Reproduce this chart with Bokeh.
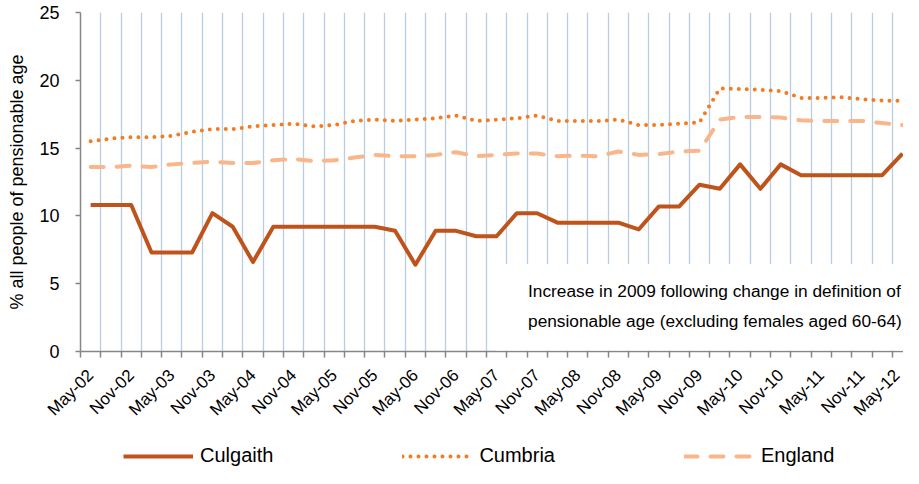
import math
from bokeh.plotting import figure
from bokeh.layouts import column
from bokeh.models import (ColumnDataSource, FixedTicker, Range1d, Legend, LegendItem,
                          BoxAnnotation, Label)
from bokeh.embed import file_html
from bokeh.resources import INLINE

quarters = []
for yr in range(2, 13):
    for m in ["Feb", "May", "Aug", "Nov"]:
        quarters.append(f"{m}-{yr:02d}")
quarters = quarters[1:42]  # May-02 .. May-12

culgaith = [10.8, 10.8, 10.8, 7.3, 7.3, 7.3, 10.2, 9.2, 6.6, 9.2,
            9.2, 9.2, 9.2, 9.2, 9.2, 8.9, 6.4, 8.9, 8.9, 8.5,
            8.5, 10.2, 10.2, 9.5, 9.5, 9.5, 9.5, 9.0, 10.7, 10.7,
            12.3, 12.0, 13.8, 12.0, 13.8, 13.0, 13.0, 13.0, 13.0, 13.0,
            14.6]
cumbria = [15.5, 15.7, 15.8, 15.8, 15.9, 16.2, 16.4, 16.4, 16.6, 16.7,
           16.8, 16.6, 16.7, 17.0, 17.1, 17.0, 17.1, 17.2, 17.4, 17.0,
           17.1, 17.2, 17.4, 17.0, 17.0, 17.0, 17.1, 16.7, 16.7, 16.8,
           16.9, 19.4, 19.35, 19.3, 19.2, 18.7, 18.7, 18.75, 18.6, 18.5,
           18.5]
england = [13.6, 13.6, 13.7, 13.6, 13.8, 13.9, 14.0, 13.9, 13.9, 14.1,
           14.2, 14.05, 14.1, 14.3, 14.5, 14.4, 14.4, 14.5, 14.7, 14.4,
           14.5, 14.6, 14.6, 14.4, 14.45, 14.4, 14.75, 14.5, 14.55, 14.75,
           14.8, 17.1, 17.3, 17.3, 17.25, 17.05, 17.0, 17.0, 17.0, 16.85,
           16.7]
y_ticks = [0, 5, 10, 15, 20, 25]
note_lines = ["Increase in 2009 following change in definition of",
              "pensionable age (excluding females aged 60-64)"]

x = list(range(len(quarters)))
src = ColumnDataSource(dict(x=x, culgaith=culgaith, cumbria=cumbria, england=england))

FONT = "Liberation Sans"
AXIS_COL = "#868686"
STYLES = dict(
    england=dict(line_color="#F9B68A", line_width=4, line_dash="13 13", line_cap="round"),
    cumbria=dict(line_color="#F47B20", line_width=4, line_dash="0 8", line_cap="round"),
    culgaith=dict(line_color="#BE541C", line_width=4, line_join="round"),
)

xr = Range1d(-0.5, 40.05)
boundaries = [i - 0.5 for i in range(len(quarters) + 1)]

# ---------------- main plot ----------------
p = figure(frame_width=823, frame_height=339, output_backend="svg", toolbar_location=None,
           x_range=xr, y_range=Range1d(0, 25),
           min_border_left=80, min_border_right=0, min_border_top=12, min_border_bottom=12)
p.outline_line_color = None
p.background_fill_color = "white"
p.border_fill_color = "white"

p.ygrid.visible = False
p.xgrid.ticker = FixedTicker(ticks=boundaries[1:])
p.xgrid.grid_line_color = "#B9CDE5"
p.xgrid.grid_line_width = 1.3

p.xaxis.ticker = FixedTicker(ticks=[], minor_ticks=boundaries)
p.xaxis.major_tick_out = 0
p.xaxis.major_tick_in = 0
p.xaxis.major_label_standoff = 0
p.xaxis.minor_tick_out = 6
p.xaxis.minor_tick_in = 0
p.xaxis.minor_tick_line_color = AXIS_COL
p.xaxis.minor_tick_line_width = 1.5
p.xaxis.axis_line_color = AXIS_COL
p.xaxis.axis_line_width = 1.5

p.yaxis.ticker = FixedTicker(ticks=y_ticks)
p.yaxis.major_tick_out = 5
p.yaxis.major_tick_in = 0
p.yaxis.minor_tick_line_color = None
p.yaxis.major_tick_line_color = AXIS_COL
p.yaxis.major_tick_line_width = 1.5
p.yaxis.axis_line_color = AXIS_COL
p.yaxis.axis_line_width = 1.5
p.yaxis.major_label_standoff = 16
p.yaxis.major_label_text_font = FONT
p.yaxis.major_label_text_font_size = "18px"
p.yaxis.major_label_text_color = "black"
p.yaxis.axis_label = "% all people of pensionable age"
p.yaxis.axis_label_text_font = FONT
p.yaxis.axis_label_text_font_size = "18px"
p.yaxis.axis_label_text_font_style = "normal"
p.yaxis.axis_label_text_color = "black"
p.yaxis.axis_label_standoff = 9

for name in ["england", "cumbria", "culgaith"]:
    p.line("x", name, source=src, **STYLES[name])

box = BoxAnnotation(left=20.0, right=41, bottom=0.08, top=6.45,
                    fill_color="white", fill_alpha=1.0, line_alpha=0)
p.add_layout(box)
for txt, yy in zip(note_lines, [4.48, 2.26]):
    p.add_layout(Label(x=21.55, y=yy, text=txt, text_baseline="middle", text_align="left",
                       text_font=FONT, text_font_size="17.3px", text_color="black"))

# ---------------- x tick labels (rotated) ----------------
lab = figure(frame_width=823, frame_height=1, output_backend="svg", toolbar_location=None,
             x_range=xr, y_range=Range1d(0, 1), y_axis_type=None,
             min_border_left=62, min_border_right=18, min_border_top=0, min_border_bottom=70)
lab.outline_line_color = None
lab.xgrid.visible = False
lab.ygrid.visible = False
lab.xaxis.ticker = FixedTicker(ticks=[i for i in x if i % 2 == 0])
lab.xaxis.major_label_overrides = {i: quarters[i] for i in x if i % 2 == 0}
lab.xaxis.axis_line_color = None
lab.xaxis.major_tick_line_color = None
lab.xaxis.minor_tick_line_color = None
lab.xaxis.major_tick_out = 0
lab.xaxis.major_tick_in = 0
lab.xaxis.major_label_orientation = math.pi / 4
lab.xaxis.major_label_standoff = 8
lab.xaxis.major_label_text_font = FONT
lab.xaxis.major_label_text_font_size = "17px"
lab.xaxis.major_label_text_color = "black"

# ---------------- legend ----------------
leg = figure(width=903, height=34, output_backend="svg", toolbar_location=None,
             x_range=Range1d(0, 1), y_range=Range1d(100, 101),
             x_axis_type=None, y_axis_type=None,
             min_border_left=0, min_border_right=0, min_border_top=0, min_border_bottom=0)
leg.outline_line_color = None
leg.xgrid.visible = False
leg.ygrid.visible = False
rr = {name: leg.line("x", name, source=src, **STYLES[name])
      for name in ["culgaith", "cumbria", "england"]}
legend = Legend(items=[LegendItem(label="Culgaith", renderers=[rr["culgaith"]]),
                       LegendItem(label="Cumbria", renderers=[rr["cumbria"]]),
                       LegendItem(label="England", renderers=[rr["england"]])],
                orientation="horizontal", location=(43, 1),
                glyph_width=70, glyph_height=20, label_height=20, label_standoff=7,
                spacing=129, padding=0, margin=0,
                label_text_font=FONT, label_text_font_size="20px",
                label_text_color="black", border_line_color=None,
                background_fill_alpha=0)
leg.add_layout(legend, "center")

layout = column(p, lab, leg, spacing=0)
open("out.html", "w").write(file_html(layout, INLINE))
